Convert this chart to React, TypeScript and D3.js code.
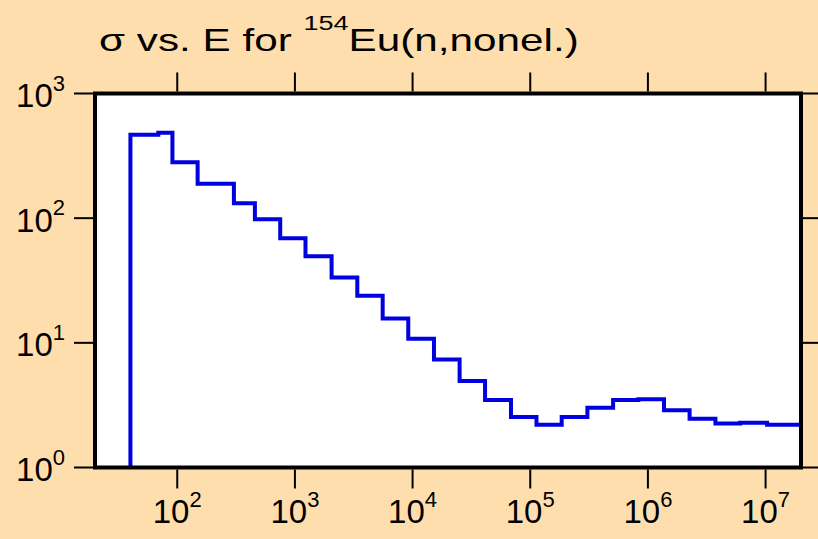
import React from "react";
import * as d3 from "d3";

// Bin edges (eV) and cross sections (b)
const binEdges = [
  40, 69, 91, 149, 303, 457, 750, 1230, 2050, 3390, 5570, 9190, 15200, 25100,
  41300, 68600, 113000, 185000, 306000, 506000, 830000, 1370000, 2260000,
  3750000, 6080000, 10300000, 20000000,
];
const sigmaValues = [
  467, 484, 281, 189, 132, 98, 69, 49.4, 33.4, 23.9, 15.7, 10.8, 7.35, 4.94,
  3.48, 2.54, 2.2, 2.54, 3.02, 3.48, 3.52, 2.88, 2.46, 2.25, 2.29, 2.2,
];
const xTickValues = [1e2, 1e3, 1e4, 1e5, 1e6, 1e7];
const xTickExponents = ["2", "3", "4", "5", "6", "7"];
const yTickValues = [1, 10, 100, 1000];
const yTickExponents = ["0", "1", "2", "3"];
const xDomain = [20, 2e7];
const yDomain = [1, 1000];

const W = 818;
const H = 539;
const left = 95;
const right = 801;
const top = 93.5;
const bottom = 467.5;
const FONT = "'Liberation Sans', Arial, Helvetica, sans-serif";
const BG = "#FFDEAD";
const BLUE = "#0000e0";

export default function App() {
  const x = d3.scaleLog().domain(xDomain).range([left, right]);
  const y = d3.scaleLog().domain(yDomain).range([bottom, top]);

  const pts: [number, number][] = [];
  pts.push([binEdges[0], yDomain[0]]);
  sigmaValues.forEach((v, i) => {
    pts.push([binEdges[i], v]);
    pts.push([binEdges[i + 1], v]);
  });
  pts.push([binEdges[binEdges.length - 1], yDomain[0]]);
  const line = d3
    .line<[number, number]>()
    .x((d) => x(d[0]))
    .y((d) => y(d[1]));

  return (
    <svg
      width={W}
      height={H}
      style={{ position: "absolute", left: 0, top: 0, display: "block" }}
    >
      <rect x={0} y={0} width={W} height={H} fill={BG} />
      <rect
        x={left}
        y={top}
        width={right - left}
        height={bottom - top}
        fill="#ffffff"
      />
      <path
        d={line(pts) || ""}
        fill="none"
        stroke={BLUE}
        strokeWidth={4}
        strokeLinejoin="miter"
        strokeLinecap="butt"
      />
      <rect
        x={left}
        y={top}
        width={right - left}
        height={bottom - top}
        fill="none"
        stroke="#000"
        strokeWidth={4}
      />
      {/* x ticks top & bottom */}
      {xTickValues.map((v, i) => (
        <g key={"xt" + i}>
          <line x1={x(v)} x2={x(v)} y1={top - 2} y2={top - 21} stroke="#000" strokeWidth={2} />
          <line x1={x(v)} x2={x(v)} y1={bottom + 2} y2={bottom + 21} stroke="#000" strokeWidth={2} />
          <text
            x={x(v)}
            y={523}
            textAnchor="middle"
            fontFamily={FONT}
            fontSize={33}
            fill="#000"
          >
            10
            <tspan fontSize={22} dy={-16.5}>
              {xTickExponents[i]}
            </tspan>
          </text>
        </g>
      ))}
      {/* y ticks left & right */}
      {yTickValues.map((v, i) => (
        <g key={"yt" + i}>
          <line x1={left - 2} x2={left - 21} y1={y(v)} y2={y(v)} stroke="#000" strokeWidth={2} />
          <line x1={right + 2} x2={right + 21} y1={y(v)} y2={y(v)} stroke="#000" strokeWidth={2} />
          <text
            x={65}
            y={y(v) + 13.5}
            textAnchor="end"
            fontFamily={FONT}
            fontSize={33}
            fill="#000"
          >
            10
            <tspan fontSize={22} dy={-16.5}>
              {yTickExponents[i]}
            </tspan>
          </text>
        </g>
      ))}
      {/* title */}
      <text
        transform="translate(99,51) scale(1.32,1)"
        fontFamily={FONT}
        fontSize={32}
        fill="#000"
        style={{ whiteSpace: "pre" }}
      >
        {"σ vs. E for "}
        <tspan fontSize={20.5} dy={-21}>
          154
        </tspan>
        <tspan fontSize={32} dy={21}>
          Eu(n,nonel.)
        </tspan>
      </text>
    </svg>
  );
}
